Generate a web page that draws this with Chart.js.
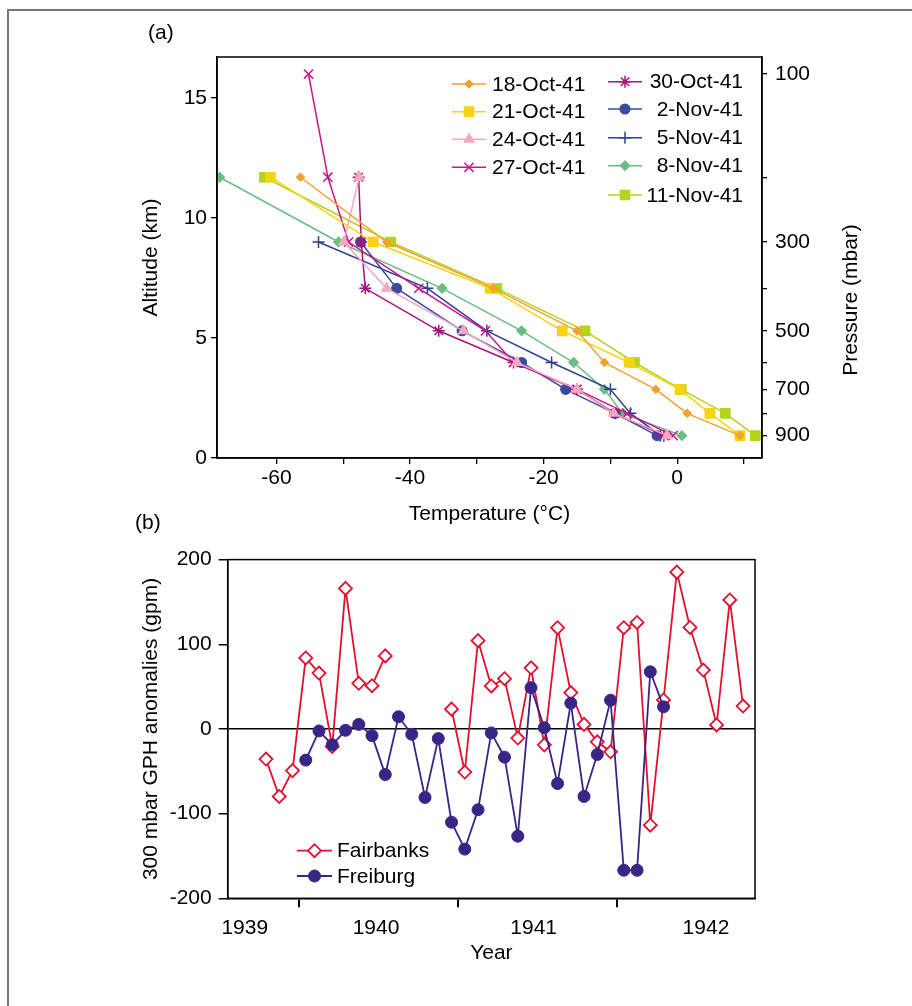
<!DOCTYPE html>
<html>
<head>
<meta charset="utf-8">
<title>Soundings and 300 mbar anomalies</title>
<script src="https://cdn.jsdelivr.net/npm/chart.js@4.4.0/dist/chart.umd.min.js"></script>
<style>
  html, body { margin: 0; padding: 0; background: #fff; }
  body { width: 912px; height: 1006px; position: relative; overflow: hidden; font-family: "Liberation Sans", Arial, sans-serif; }
  #frame { position: absolute; left: 7px; top: 9px; width: 940px; height: 1040px; border-top: 2px solid #777; border-left: 2px solid #777; }
  .panel { position: absolute; left: 0; }
  #panelA { top: 0; }
  #panelB { top: 540px; }
  .tag { position: absolute; font-size: 21px; color: #000; }
</style>
</head>
<body>
<div id="frame"></div>
<canvas id="panelA" class="panel" width="912" height="540"></canvas>
<canvas id="panelB" class="panel" width="912" height="466"></canvas>
<div class="tag" style="left:148px; top:20px;">(a)</div>
<div class="tag" style="left:135px; top:510px;">(b)</div>
<script>
// ---- panel (a): temperature profiles, one value per pressure level ----
const pressureLevels = [100, 200, 300, 400, 500, 600, 700, 800, 900];
const altitudeKm = [16.0, 11.7, 9.0, 7.07, 5.3, 3.98, 2.86, 1.86, 0.93];

const oct18 = [null, -56.4, -43.5, -27.5, -15.0, -10.9, -3.2, 1.5, 9.4];
const oct21 = [null, -60.9, -45.5, -28.0, -17.2, -7.2, 0.4, 4.9, 9.4];
const oct24 = [null, -47.6, -49.9, -43.5, -32.0, -24.0, -15.0, -9.5, -1.5];
const oct27 = [-55.2, -52.3, -49.2, -38.7, -28.7, -24.5, -15.0, -7.5, -0.6];
const oct30 = [null, -47.7, -47.3, -46.7, -35.7, -24.5, -15.0, -9.3, -2.0];
const nov02 = [null, null, -47.4, -42.0, -32.2, -23.3, -16.7, -9.3, -3.0];
const nov05 = [null, null, -53.7, -37.4, -28.5, -18.8, -10.0, -7.0, -2.5];
const nov08 = [null, -68.5, -50.7, -35.2, -23.3, -15.5, -10.9, -8.2, 0.7];
const nov11 = [null, -61.8, -42.9, -27.0, -13.8, -6.4, 0.6, 7.2, 11.7];

const tempTicks = [-60, -50, -40, -30, -20, -10, 0, 10];
const altTicks = [0, 5, 10, 15];

// ---- panel (b): monthly 300 mbar GPH anomalies, Oct 1939 .. Oct 1942 ----
const fairbanks = [-35.6, -79.7, -49.2, 83.9, 66, -20.8, 166, 53.9, 51.1, 86.3,
  null, null, null, null,
  23.4, -50.9, 104.3, 50.8, 59.3, -10.8, 72.2, -18.8, 119.6, 42.9, 5.4, -15.2, -27,
  119.6, 125.8, -113.7, 34.3, 185.2, 119.9, 69.5, 4.7, 152.4, 27];
const freiburg = [null, null, null,
  -36.8, -2.3, -18.8, -1.6, 5.4, -7.9, -53.9, 14.4, -6.3, -80.9, -11.4, -110.2,
  -141.9, -95.4, -4.7, -33.3, -126.6, 48.8, 1.5, -64.5, 30.5, -79.7, -30.1, 34,
  -166.9, -166.9, 67.5, 26.1];

const yearLabels = ['1939', '1940', '1941', '1942'];
const yearLabelPos = [-1.6, 8.3, 20.2, 33.2];   // month index where each year label sits
const yearBounds = [2.5, 14.5, 26.5];            // Jan 1 of 1940, 1941, 1942
const gphTicks = [-200, -100, 0, 100, 200];

const FONT = '"Liberation Sans", Arial, sans-serif';
Chart.defaults.font.family = FONT;
Chart.defaults.color = '#000';

function profile(temps) {
  return temps.map((t, i) => (t === null ? null : { x: t, y: altitudeKm[i] })).filter(p => p);
}

function series(label, temps, color, style, radius) {
  return {
    label: label,
    data: profile(temps),
    borderColor: color,
    backgroundColor: color,
    borderWidth: 1.5,
    pointStyle: style,
    pointRadius: radius,
    pointBorderWidth: 1.5,
    fill: false,
    tension: 0
  };
}

function fixedTicks(values) {
  return axis => { axis.ticks = values.map(v => ({ value: v })); };
}

// box around the plotting area
const boxPlugin = {
  id: 'box',
  afterDraw(chart) {
    const { ctx, chartArea: a } = chart;
    ctx.save();
    ctx.strokeStyle = '#000';
    ctx.lineWidth = 1.5;
    ctx.strokeRect(a.left, a.top, a.right - a.left, a.bottom - a.top);
    ctx.restore();
  }
};

// legend drawn by hand so the two columns line up like the original
function drawLegendItem(ctx, ds, x1, x2, y) {
  ctx.strokeStyle = ds.borderColor;
  ctx.lineWidth = ds.borderWidth;
  ctx.beginPath();
  ctx.moveTo(x1, y);
  ctx.lineTo(x2, y);
  ctx.stroke();
  ctx.fillStyle = ds.backgroundColor;
  ctx.lineWidth = ds.pointBorderWidth;
  Chart.helpers.drawPoint(ctx, { pointStyle: ds.pointStyle, radius: ds.pointRadius, borderWidth: ds.pointBorderWidth, rotation: 0 }, (x1 + x2) / 2, y);
}

const legendA = {
  id: 'legendA',
  afterDraw(chart) {
    const ctx = chart.ctx;
    const slots = [
      [452, 486, 84, 492, 'left'], [452, 486, 111.7, 492, 'left'],
      [452, 486, 139.3, 492, 'left'], [452, 486, 167.3, 492, 'left'],
      [608, 642, 81.7, 743, 'right'], [608, 642, 109, 743, 'right'],
      [608, 642, 137.7, 743, 'right'], [608, 642, 165.7, 743, 'right'],
      [608, 642, 195, 743, 'right']
    ];
    ctx.save();
    chart.data.datasets.forEach((ds, i) => {
      const s = slots[i];
      drawLegendItem(ctx, ds, s[0], s[1], s[2]);
      ctx.fillStyle = '#000';
      ctx.font = '21px ' + FONT;
      ctx.textBaseline = 'middle';
      ctx.textAlign = s[4];
      ctx.fillText(ds.label, s[3], s[2] + 1);
    });
    // right-hand axis title reads bottom to top
    ctx.translate(851, 300);
    ctx.rotate(-Math.PI / 2);
    ctx.textAlign = 'center';
    ctx.font = '21px ' + FONT;
    ctx.fillText('Pressure (mbar)', 0, 0);
    ctx.restore();
  }
};

const legendB = {
  id: 'legendB',
  afterDraw(chart) {
    const ctx = chart.ctx;
    const rows = [310.7, 336];
    ctx.save();
    // legend order: Fairbanks first
    [chart.data.datasets[1], chart.data.datasets[0]].forEach((ds, i) => {
      drawLegendItem(ctx, ds, 297, 332, rows[i]);
      ctx.fillStyle = '#000';
      ctx.font = '21px ' + FONT;
      ctx.textBaseline = 'middle';
      ctx.textAlign = 'left';
      ctx.fillText(ds.label, 337, rows[i] + 1);
    });
    ctx.restore();
  }
};

new Chart(document.getElementById('panelA'), {
  type: 'line',
  data: {
    datasets: [
      series('18-Oct-41', oct18, '#F2A232', 'rectRot', 3.8),
      series('21-Oct-41', oct21, '#F6D313', 'rect', 6.5),
      series('24-Oct-41', oct24, '#F3A9BE', 'triangle', 5.5),
      series('27-Oct-41', oct27, '#C8168C', 'crossRot', 6.5),
      series('30-Oct-41', oct30, '#A8127F', 'star', 6),
      series('2-Nov-41', nov02, '#3A4B9F', 'circle', 4.8),
      series('5-Nov-41', nov05, '#2F3F90', 'cross', 6),
      series('8-Nov-41', nov08, '#6CBD83', 'rectRot', 4.6),
      series('11-Nov-41', nov11, '#B3D41E', 'rect', 6.5)
    ]
  },
  options: {
    responsive: false,
    animation: false,
    events: [],
    layout: { padding: { top: 57, left: 0, right: 0, bottom: 0 } },
    plugins: { legend: { display: false }, tooltip: { enabled: false } },
    scales: {
      x: {
        type: 'linear',
        min: -68.9,
        max: 12.7,
        afterBuildTicks: fixedTicks(tempTicks),
        afterFit: s => { s.height = 82; },
        ticks: {
          autoSkip: false,
          maxRotation: 0,
          padding: 2,
          font: { size: 21 },
          callback: v => (v % 20 === 0 ? String(v) : '')
        },
        grid: { drawOnChartArea: false, tickLength: 6, color: '#000', lineWidth: 1.3 },
        border: { color: '#000', width: 1.5 },
        title: { display: true, text: 'Temperature (°C)', font: { size: 21 }, padding: { top: 0, bottom: 13 } }
      },
      y: {
        type: 'linear',
        min: 0,
        max: 16.71,
        afterBuildTicks: fixedTicks(altTicks),
        afterFit: s => { s.width = 217; },
        ticks: { autoSkip: false, padding: 4, font: { size: 21 } },
        grid: { drawOnChartArea: false, tickLength: 6, color: '#000', lineWidth: 1.3 },
        border: { color: '#000', width: 1.5 },
        title: { display: true, text: 'Altitude (km)', font: { size: 21 }, padding: { top: 139, bottom: 0 } }
      },
      pressure: {
        type: 'linear',
        position: 'right',
        min: 0,
        max: 16.71,
        afterBuildTicks: fixedTicks(altitudeKm),
        afterFit: s => { s.width = 150; },
        ticks: {
          autoSkip: false,
          padding: 8,
          font: { size: 21 },
          callback: (v, i) => (pressureLevels[i] % 200 === 100 ? String(pressureLevels[i]) : '')
        },
        grid: { drawOnChartArea: false, tickLength: 5, color: '#000', lineWidth: 1.3 },
        border: { color: '#000', width: 1.5 }
      }
    }
  },
  plugins: [boxPlugin, legendA]
});

function monthly(values) {
  return values.map((v, i) => ({ x: i, y: v }));
}

new Chart(document.getElementById('panelB'), {
  type: 'line',
  data: {
    datasets: [
      {
        label: 'Freiburg',
        data: monthly(freiburg),
        borderColor: '#3A2486',
        backgroundColor: '#3A2486',
        borderWidth: 1.8,
        pointStyle: 'circle',
        pointRadius: 6,
        pointBorderWidth: 1,
        spanGaps: false,
        order: 1
      },
      {
        label: 'Fairbanks',
        data: monthly(fairbanks),
        borderColor: '#E0102F',
        backgroundColor: '#FFFFFF',
        borderWidth: 1.8,
        pointStyle: 'rectRot',
        pointRadius: 6.5,
        pointBorderWidth: 1.8,
        spanGaps: false,
        order: 2
      }
    ]
  },
  options: {
    responsive: false,
    animation: false,
    events: [],
    layout: { padding: { top: 16.7, left: 0, right: 157, bottom: 0 } },
    plugins: { legend: { display: false }, tooltip: { enabled: false } },
    scales: {
      x: {
        type: 'linear',
        min: -2.89,
        max: 36.9,
        afterBuildTicks: fixedTicks(yearLabelPos.concat(yearBounds).sort((a, b) => a - b)),
        afterFit: s => { s.height = 107.7; },
        ticks: {
          autoSkip: false,
          maxRotation: 0,
          padding: 8,
          font: { size: 21 },
          callback: v => {
            const k = yearLabelPos.indexOf(v);
            return k >= 0 ? yearLabels[k] : '';
          }
        },
        grid: {
          drawOnChartArea: false,
          tickLength: 9,
          lineWidth: 2,
          color: '#000',
          tickColor: c => (yearBounds.includes(c.tick.value) ? '#000' : 'rgba(0,0,0,0)')
        },
        border: { color: '#000', width: 1.5 },
        title: { display: true, text: 'Year', font: { size: 21 }, padding: { top: 0, bottom: 40 } }
      },
      y: {
        type: 'linear',
        min: -200,
        max: 200,
        afterBuildTicks: fixedTicks(gphTicks),
        afterFit: s => { s.width = 227.7; },
        ticks: { autoSkip: false, padding: 7, font: { size: 21 } },
        grid: {
          drawOnChartArea: true,
          tickLength: 9,
          lineWidth: 1.5,
          color: c => (c.tick && c.tick.value === 0 ? '#000' : 'rgba(0,0,0,0)'),
          tickColor: '#000'
        },
        border: { color: '#000', width: 1.5 },
        title: { display: true, text: '300 mbar GPH anomalies (gpm)', font: { size: 21 }, padding: { top: 139, bottom: 0 } }
      }
    }
  },
  plugins: [boxPlugin, legendB]
});
</script>
</body>
</html>
